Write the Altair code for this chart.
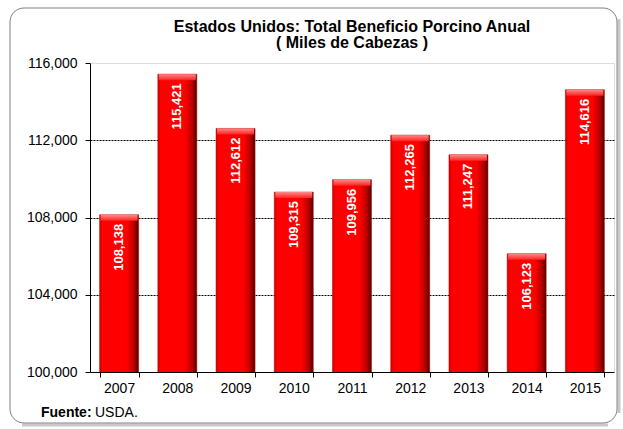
import altair as alt
import pandas as pd

years = ["2007", "2008", "2009", "2010", "2011", "2012", "2013", "2014", "2015"]
values = [108138, 115421, 112612, 109315, 109956, 112265, 111247, 106123, 114616]
y_ticks = [100000, 104000, 108000, 112000, 116000]
title_line1 = "Estados Unidos: Total Beneficio Porcino Anual"
title_line2 = "( Miles de Cabezas )"
source_bold = "Fuente:"
source_text = "USDA."

FONT = "Liberation Sans"
df = pd.DataFrame({"year": years, "value": values})

x_enc = alt.X("year:N", title=None, sort=years,
              scale=alt.Scale(paddingInner=0.33, paddingOuter=0.165),
              axis=alt.Axis(labelAngle=0, labelFontSize=14, labelFont=FONT, labelColor="black",
                            tickBand="extent", tickSize=5, tickColor="black",
                            domainColor="black", labelPadding=4, grid=False))
y_enc = alt.Y("value:Q", title=None,
              scale=alt.Scale(domain=[100000, 116000], nice=False, zero=False),
              axis=alt.Axis(values=y_ticks, labelExpr="format(datum.value, ',')",
                            labelFontSize=14, labelFont=FONT,
                            labelColor="black", tickSize=5, tickColor="black",
                            domainColor="black", labelPadding=8,
                            gridColor="black", gridDash=[2, 1], gridWidth=1,
                            gridOpacity={"condition": {"test": "datum.value >= 116000 || datum.value <= 100000", "value": 0}, "value": 1}))

base = alt.Chart(df).encode(x=x_enc, y=y_enc)

bar_grad = alt.LinearGradient(
    gradient="linear", x1=0, x2=1, y1=0, y2=0,
    stops=[alt.GradientStop(color="#C80000", offset=0),
           alt.GradientStop(color="#FF0000", offset=0.07),
           alt.GradientStop(color="#FF0000", offset=0.70),
           alt.GradientStop(color="#B80000", offset=0.88),
           alt.GradientStop(color="#500000", offset=1)])

bars = base.mark_bar(color=bar_grad, stroke="#B00000", strokeWidth=0.5, clip=True)

cap_grad = alt.LinearGradient(
    gradient="linear", x1=0, x2=0, y1=0, y2=1,
    stops=[alt.GradientStop(color="#FF8A8A", offset=0),
           alt.GradientStop(color="#FF2020", offset=1)])
caps = base.mark_tick(color=cap_grad, thickness=6, size=37, yOffset=3, opacity=1)

labels = base.mark_text(angle=270, align="right", baseline="middle", dx=-9,
                        color="white", font=FONT, fontSize=13, fontWeight="bold").encode(
    text=alt.Text("value:Q", format=","))

one = alt.Chart(alt.Data(values=[{"k": 1}]))
frame = one.mark_rect(fill="transparent", stroke="#808080", strokeWidth=1, cornerRadius=14).encode(
    x=alt.value(-80), x2=alt.value(527), y=alt.value(-55), y2=alt.value(360))
shadow_b = one.mark_rule(color="#C8C8C8", strokeWidth=3).encode(
    x=alt.value(-68), x2=alt.value(518), y=alt.value(362))
shadow_r = one.mark_rule(color="#C8C8C8", strokeWidth=3).encode(
    x=alt.value(529), y=alt.value(-44), y2=alt.value(350))
t1 = one.mark_text(align="center", baseline="alphabetic", font=FONT, fontSize=16,
                   fontWeight="bold", color="black").encode(
    x=alt.value(262), y=alt.value(-31), text=alt.value(title_line1))
t2 = one.mark_text(align="center", baseline="alphabetic", font=FONT, fontSize=16,
                   fontWeight="bold", color="black").encode(
    x=alt.value(262), y=alt.value(-15), text=alt.value(title_line2))
src1 = one.mark_text(align="left", baseline="alphabetic", font=FONT, fontSize=14,
                     fontWeight="bold", color="black").encode(
    x=alt.value(-49), y=alt.value(354), text=alt.value(source_bold))
src2 = one.mark_text(align="left", baseline="alphabetic", font=FONT, fontSize=14,
                     color="black").encode(
    x=alt.value(5), y=alt.value(354), text=alt.value(source_text))

chart = alt.layer(shadow_b, shadow_r, frame, bars, caps, labels, t1, t2, src1, src2).properties(
    width=524, height=309,
    autosize=alt.AutoSizeParams(type="none"),
    padding={"left": 90, "top": 63, "right": 9, "bottom": 57},
).configure_view(stroke="#808080", strokeWidth=1).configure(background="white")

chart.save("out.html", embed_options={"renderer": "svg", "actions": False})
